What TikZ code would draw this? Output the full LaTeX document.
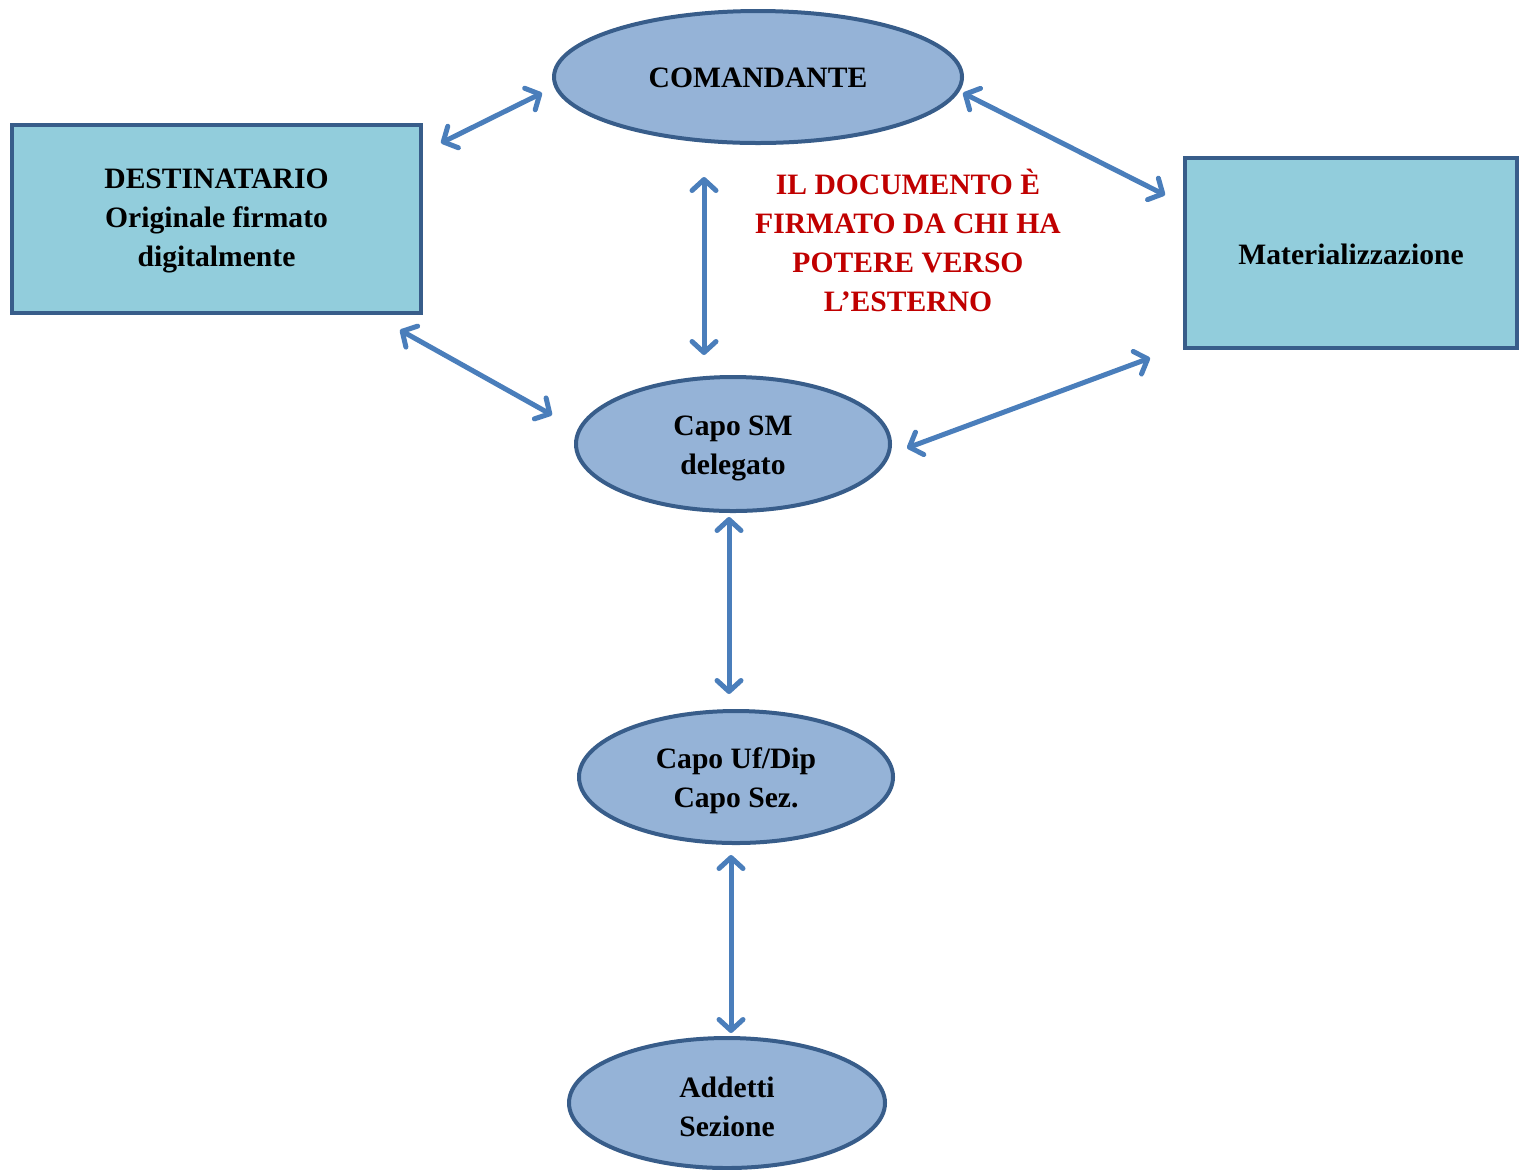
\documentclass[tikz,border=0pt]{standalone}
\usepackage{fontspec}
\setmainfont{Liberation Serif}
\usetikzlibrary{shapes.geometric,arrows.meta}
\definecolor{ellfill}{HTML}{95B3D7}
\definecolor{bordc}{HTML}{385D8A}
\definecolor{rectfill}{HTML}{92CDDC}
\definecolor{arrc}{HTML}{4A7EBB}
\definecolor{redtxt}{HTML}{C00000}
\tikzset{
  ell/.style={ellipse, draw=bordc, fill=ellfill, line width=2pt, inner sep=0pt},
  box/.style={rectangle, draw=bordc, fill=rectfill, line width=2pt, inner sep=0pt},
  lbl/.style={align=center, inner sep=0pt, yshift=-2pt, font=\fontsize{14.8}{19.5}\selectfont\bfseries},
  lblone/.style={align=center, inner sep=0pt, yshift=-0.5pt, font=\fontsize{14.8}{19.5}\selectfont\bfseries},
  link/.style={draw=arrc, line width=2.5pt, {Straight Barb[length=5.5pt,width=12pt,line cap=round,line join=round]}-{Straight Barb[length=5.5pt,width=12pt,line cap=round,line join=round]}},
  note/.style={align=center, text=redtxt, inner sep=0pt, font=\fontsize{14.8}{19.5}\selectfont\bfseries}
}
\begin{document}
\begin{tikzpicture}[x=0.5pt,y=-0.5pt]
\useasboundingbox (0,0) rectangle (1524,1169);
\node[ell, minimum width=204pt, minimum height=66pt] (cmd) at (758,77) {};
\node[lblone] (cmdt) at (cmd.center) {COMANDANTE};
\node[box, minimum width=204.5pt, minimum height=94pt] (dest) at (216.5,219) {};
\node[lbl, yshift=1pt] (destt) at (dest.center) {DESTINATARIO\\Originale firmato\\digitalmente};
\node[box, minimum width=166pt, minimum height=95pt] (mat) at (1351,253) {};
\node[lblone] (matt) at (mat.center) {Materializzazione};
\node[ell, minimum width=157pt, minimum height=67pt] (sm) at (733,444) {};
\node[lbl] (smt) at (sm.center) {Capo SM\\delegato};
\node[ell, minimum width=157pt, minimum height=66pt] (uf) at (736,777) {};
\node[lbl] (uft) at (uf.center) {Capo Uf/Dip\\Capo Sez.};
\node[ell, minimum width=158pt, minimum height=65pt] (add) at (727,1103) {};
\node[lbl] (addt) at (add.center) {Addetti\\Sezione};
\node[note] (txt) at (908,240) {IL DOCUMENTO È\\FIRMATO DA CHI HA\\POTERE VERSO\\L’ESTERNO};
\coordinate (a1) at (441,143); \coordinate (b1) at (542,93);
\coordinate (a2) at (704,177); \coordinate (b2) at (704,355);
\coordinate (a3) at (963,93); \coordinate (b3) at (1165,195);
\coordinate (a4) at (400,330); \coordinate (b4) at (552,415);
\coordinate (a5) at (907,448); \coordinate (b5) at (1150,358);
\coordinate (a6) at (729,517); \coordinate (b6) at (729,694);
\coordinate (a7) at (731,855); \coordinate (b7) at (731,1033);
\draw[link] (a1) -- (b1);
\draw[link] (a2) -- (b2);
\draw[link] (a3) -- (b3);
\draw[link] (a4) -- (b4);
\draw[link] (a5) -- (b5);
\draw[link] (a6) -- (b6);
\draw[link] (a7) -- (b7);
\end{tikzpicture}
\end{document}
